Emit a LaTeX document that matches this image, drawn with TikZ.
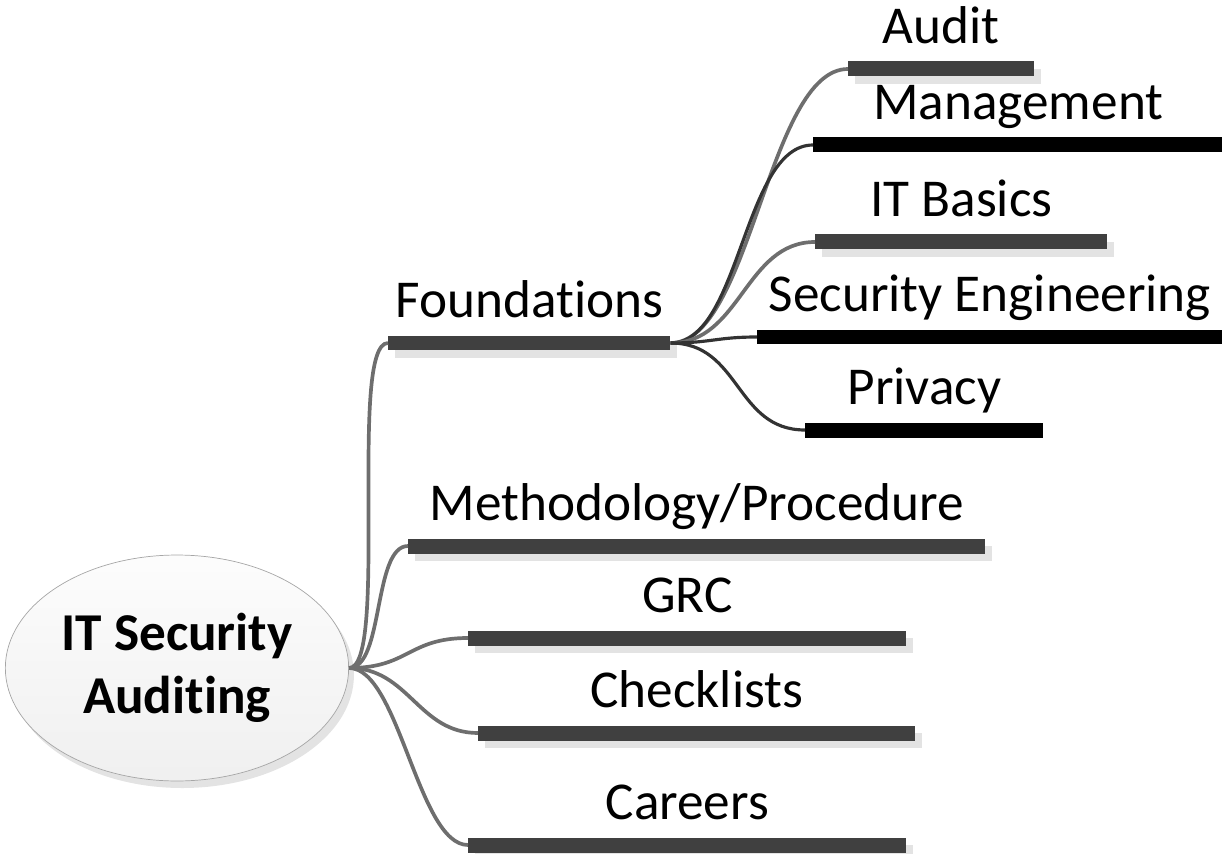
\documentclass[tikz,border=0pt]{standalone}
\usepackage{fontspec}
\setmainfont[RawFeature={-liga;-clig;-calt;-dlig;-ccmp;-rlig}]{Carlito}
\usetikzlibrary{positioning,shapes.geometric,shadows}

\definecolor{barg}{HTML}{404040}
\definecolor{shd}{HTML}{E3E3E3}
\definecolor{lineg}{HTML}{6E6E6E}
\definecolor{lined}{HTML}{333333}

\tikzset{
  gbar/.style={rectangle, fill=barg, inner sep=0pt, minimum height=0.3cm, anchor=west,
    drop shadow={shadow xshift=4pt, shadow yshift=-4pt, fill=shd, opacity=1}},
  kbar/.style={rectangle, fill=black, inner sep=0pt, minimum height=0.3cm, anchor=west},
  lbl/.style={inner sep=0pt, text depth=0pt, font=\fontsize{30.3}{36}\selectfont},
  gline/.style={draw=lineg, line width=2.1pt},
  kline/.style={draw=lined, line width=1.8pt}
}

\begin{document}
\begin{tikzpicture}[x=0.02cm, y=-0.02cm]
  \useasboundingbox (0,0) rectangle (1222,854);

  % Central topic
  \node[ellipse, draw=gray!70, top color=gray!2, bottom color=gray!12,
    minimum width=6.6cm, minimum height=4.52cm, align=center,
    font=\bfseries\fontsize{30.3}{36}\selectfont,
    drop shadow={shadow xshift=3pt, shadow yshift=-4pt, fill=shd, opacity=1}]
    (root) at (177,668) {IT Security\\Auditing};

  % Main branches
  \node[gbar, minimum width=5.64cm] (found) at (388,343) {};
  \node[gbar, minimum width=11.54cm] (meth) at (408,546) {};
  \node[gbar, minimum width=8.76cm] (grc) at (468,638) {};
  \node[gbar, minimum width=8.74cm] (check) at (478,733) {};
  \node[gbar, minimum width=8.76cm] (careers) at (468,845) {};

  % Sub branches of Foundations
  \node[gbar, minimum width=3.72cm] (audit) at (848,69) {};
  \node[kbar, minimum width=8.2cm] (mgmt) at (813,145) {};
  \node[gbar, minimum width=5.84cm] (itb) at (815,242) {};
  \node[kbar, minimum width=9.3cm] (seceng) at (757,337) {};
  \node[kbar, minimum width=4.76cm] (priv) at (805,430) {};

  % Labels on top of the bars
  \node[lbl, above=0.34cm of found] {Foundations};
  \node[lbl, above=0.34cm of meth] {Methodology/Procedure};
  \node[lbl, above=0.34cm of grc] {GRC};
  \node[lbl, above=0.34cm of check] {Checklists};
  \node[lbl, above=0.34cm of careers] {Careers};
  \node[lbl, above=0.34cm of audit] {Audit};
  \node[lbl, above=0.34cm of mgmt] {Management};
  \node[lbl, above=0.34cm of itb] {IT Basics};
  \node[lbl, above=0.34cm of seceng] {Security Engineering};
  \node[lbl, above=0.34cm of priv] {Privacy};

  % Connectors from the central topic
  \draw[gline] (root.east) .. controls +(40,0) and +(-40,0) .. (found.west);
  \draw[gline] (root.east) .. controls +(35,0) and +(-35,0) .. (meth.west);
  \draw[gline] (root.east) .. controls +(60,0) and +(-60,0) .. (grc.west);
  \draw[gline] (root.east) .. controls +(60,0) and +(-60,0) .. (check.west);
  \draw[gline] (root.east) .. controls +(50,0) and +(-50,0) .. (careers.west);

  % Connectors from Foundations
  \draw[gline] (found.east) .. controls +(80,0) and +(-80,0) .. (audit.west);
  \draw[kline] (found.east) .. controls +(70,0) and +(-70,0) .. (mgmt.west);
  \draw[gline] (found.east) .. controls +(70,0) and +(-70,0) .. (itb.west);
  \draw[kline] (found.east) .. controls +(40,0) and +(-40,0) .. (seceng.west);
  \draw[kline] (found.east) .. controls +(70,0) and +(-70,0) .. (priv.west);

\end{tikzpicture}
\end{document}
